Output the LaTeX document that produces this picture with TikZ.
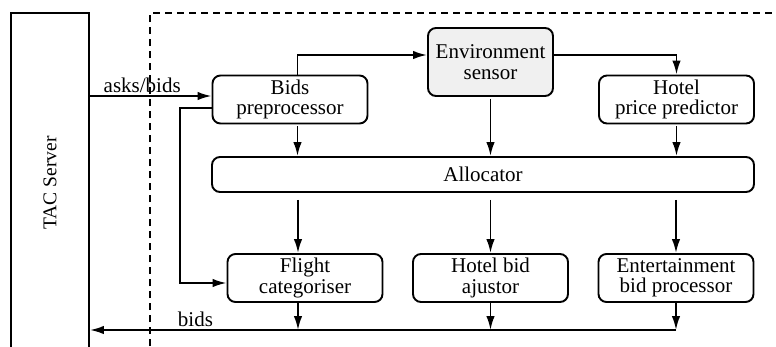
\documentclass[tikz,border=0pt]{standalone}
\usepackage{fontspec}
\setmainfont{Liberation Serif}
\usetikzlibrary{arrows.meta}
\tikzset{
  blk/.style={draw,rounded corners=8pt,align=center,minimum width=155pt,minimum height=48pt,inner sep=1pt},
  arr/.style={-{Latex[length=14pt,width=8.5pt]}},
}
\begin{document}
\begin{tikzpicture}[x=1pt,y=-1pt,line width=1.9pt,font=\fontsize{21}{20.5}\selectfont]
\clip (0,0) rectangle (776,346);
\node[draw,minimum width=78pt,minimum height=340pt,font=\fontsize{19.5}{20}\selectfont] (tac) at (50,183) {\rotatebox{90}{TAC Server}};
\draw[dash pattern=on 7pt off 5pt] (150,346)--(150,13)--(776,13);
\node[blk] (bids) at (290,99.5) {Bids\\preprocessor};
\node[blk,fill=gray!12,minimum width=125pt,minimum height=68pt] (env) at (490.5,62) {Environment\\sensor};
\node[blk] (hpp) at (676.5,99.5) {Hotel\\price predictor};
\node[blk,minimum width=542pt,minimum height=35pt] (alloc) at (483,174.5) {Allocator};
\node[blk] (flight) at (305,278) {Flight\\categoriser};
\node[blk] (hbid) at (490.5,278) {Hotel bid\\ajustor};
\node[blk] (ent) at (676,278) {Entertainment\\bid processor};
\coordinate (bus) at (676,330);
% inputs from the server
\draw[arr] ([yshift=3.5pt]bids.west -| tac.east)--([yshift=3.5pt]bids.west) node[above,pos=0.43,inner sep=2pt]{asks/bids};
\draw[arr] ([xshift=7.5pt]bids.north) |- ([yshift=7pt]env.west);
\draw[arr] ([yshift=7pt]env.east) -| (hpp.north);
\draw[arr] ([yshift=-8.5pt]bids.west)--++(-32,0) |- ([yshift=-5pt]flight.west);
% into the allocator
\draw[arr,shorten <=2pt] ([xshift=7.5pt]bids.south)--([xshift=7.5pt]bids.south |- alloc.north);
\draw[arr,shorten <=2pt] (env.south)--(env.south |- alloc.north);
\draw[arr,shorten <=2pt] (hpp.south)--(hpp.south |- alloc.north);
% out of the allocator, back to the server
\foreach \b/\dx in {flight/-7,hbid/0,ent/0}{
  \draw[arr,shorten <=7pt] ([xshift=\dx pt]\b.north |- alloc.south)--([xshift=\dx pt]\b.north);
  \draw[arr] ([xshift=\dx pt]\b.south)--([xshift=\dx pt]\b.south |- bus);
}
\draw[arr] (bus)--(bus -| tac.east) node[above,pos=0.82,inner sep=2pt]{bids};
\end{tikzpicture}
\end{document}
